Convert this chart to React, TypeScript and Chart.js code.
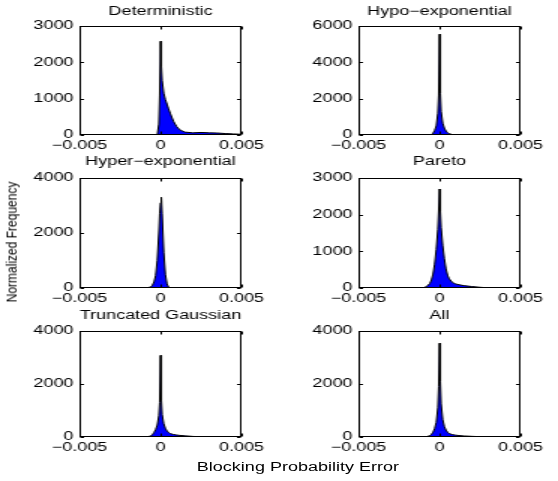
import React, { useEffect, useRef } from 'react';
import { Chart, registerables } from 'chart.js';

Chart.register(...registerables);

// ---------- data ----------
const binCenters = [
  -0.005, -0.004, -0.003, -0.002, -0.0015, -0.0012, -0.001, -0.0008, -0.0006, -0.0005,
  -0.0004, -0.0003, -0.0002, -0.0001, -0.00005, 0, 0.00005, 0.0001, 0.0002, 0.0003,
  0.0004, 0.0005, 0.0006, 0.0008, 0.001, 0.0012, 0.0015, 0.002, 0.0025, 0.003,
  0.0035, 0.004, 0.0045, 0.005,
];

const deterministicFreq = [
  0, 0, 0, 0, 0, 0, 0, 0, 0, 0,
  0, 0, 0, 300, 1100, 2580, 1900, 1500, 1150, 980,
  850, 720, 600, 380, 230, 140, 80, 60, 70, 60,
  55, 40, 30, 20,
];

const hypoExpFreq = [
  0, 0, 0, 0, 0, 0, 0, 0, 5, 30,
  100, 250, 500, 1200, 2200, 5550, 2300, 1300, 650, 380,
  220, 130, 70, 25, 8, 0, 0, 0, 0, 0,
  0, 0, 0, 0,
];

const hyperExpFreq = [
  0, 0, 0, 0, 0, 0, 0, 10, 40, 100,
  220, 450, 1000, 2000, 2700, 3100, 3300, 2700, 1300, 500,
  150, 30, 5, 0, 0, 0, 0, 0, 0, 0,
  0, 0, 0, 0,
];

const paretoFreq = [
  0, 0, 0, 0, 0, 0, 5, 40, 120, 220,
  380, 650, 1050, 1600, 2100, 2700, 2100, 1650, 1150, 800,
  520, 350, 250, 150, 110, 90, 65, 40, 20, 5,
  0, 0, 0, 0,
];

const truncGaussFreq = [
  0, 0, 0, 0, 0, 0, 0, 10, 40, 90,
  170, 280, 450, 800, 1300, 3080, 1400, 850, 500, 330,
  230, 170, 130, 95, 75, 60, 45, 22, 8, 0,
  0, 0, 0, 0,
];

const allFreq = [
  0, 0, 0, 0, 0, 0, 0, 15, 50, 100,
  180, 320, 550, 1100, 1900, 3540, 2100, 1250, 650, 400,
  260, 180, 130, 90, 70, 55, 40, 25, 12, 5,
  0, 0, 0, 0,
];

const xTickValues = [-0.005, 0, 0.005];
const xTickLabels = ['\u22120.005', '0', '0.005'];

const yTicksDet = [0, 1000, 2000, 3000];
const yTicksHypo = [0, 2000, 4000, 6000];
const yTicksHyper = [0, 2000, 4000];
const yTicksPareto = [0, 1000, 2000, 3000];
const yTicksTrunc = [0, 2000, 4000];
const yTicksAll = [0, 2000, 4000];

const panelTitles = [
  'Deterministic',
  'Hypo\u2212exponential',
  'Hyper\u2212exponential',
  'Pareto',
  'Truncated Gaussian',
  'All',
];

const yAxisLabel = 'Normalized Frequency';
const xAxisLabel = 'Blocking Probability Error';

// ---------- layout (unscaled coordinates; whole figure is stretched horizontally) ----------
const STRETCH = 1.5;
const FONT = "'Liberation Sans', Arial, Helvetica, sans-serif";
const YW = 45; // y-axis width
const XH = 22; // x-axis height
const RP = 20; // right padding
const colLeft = [53, 239];
const areaW = 108;
const rowTop = [26, 178, 331];
const rowH = [109, 110, 106];
const titleCenter = [12, 162, 316];

const panelValues = [deterministicFreq, hypoExpFreq, hyperExpFreq, paretoFreq, truncGaussFreq, allFreq];
const panelYTicks = [yTicksDet, yTicksHypo, yTicksHyper, yTicksPareto, yTicksTrunc, yTicksAll];

const framePlugin = {
  id: 'matlabFrame',
  afterDatasetsDraw(chart: any) {
    const { ctx, chartArea } = chart;
    const xs = chart.scales.x;
    const ys = chart.scales.y;
    const l = Math.round(chartArea.left) + 0.5;
    const r = Math.round(chartArea.right) - 0.5;
    const t = Math.round(chartArea.top) + 0.5;
    const b = Math.round(chartArea.bottom) - 0.5;
    ctx.save();
    ctx.strokeStyle = '#000';
    ctx.lineWidth = 1;
    ctx.beginPath();
    xs.ticks.forEach((tk: any) => {
      const px = Math.round(xs.getPixelForValue(tk.value)) + 0.5;
      ctx.moveTo(px, b);
      ctx.lineTo(px, b - 3);
      ctx.moveTo(px, t);
      ctx.lineTo(px, t + 3);
    });
    ys.ticks.forEach((tk: any) => {
      const py = Math.round(ys.getPixelForValue(tk.value)) + 0.5;
      ctx.moveTo(l, py);
      ctx.lineTo(l + 2.5, py);
      ctx.moveTo(r, py);
      ctx.lineTo(r - 2.5, py);
    });
    ctx.stroke();
    ctx.strokeRect(l, t, r - l, b - t);
    ctx.restore();
  },
};

function Panel({ index }: { index: number }) {
  const ref = useRef<HTMLCanvasElement>(null);
  const col = index % 2;
  const row = Math.floor(index / 2);
  const top = titleCenter[row] - 10;
  const titleBox = rowTop[row] - top;
  const left = colLeft[col] - YW;
  const width = YW + areaW + RP;
  const height = titleBox + rowH[row] + XH;
  const values = panelValues[index];
  const yTicks = panelYTicks[index];

  useEffect(() => {
    if (!ref.current) return;
    const font = { family: FONT, size: 12, weight: 'normal' as const };
    const chart = new Chart(ref.current, {
      type: 'line',
      data: {
        datasets: [
          {
            data: binCenters.map((x, i) => ({ x, y: values[i] })),
            fill: 'origin',
            backgroundColor: '#0000ff',
            borderColor: '#000000',
            borderWidth: 1,
            pointRadius: 0,
            tension: 0,
          },
        ],
      },
      options: {
        animation: false,
        responsive: true,
        maintainAspectRatio: false,
        events: [],
        layout: { padding: { left: 0, right: RP, top: 0, bottom: 0 } },
        plugins: {
          legend: { display: false },
          tooltip: { enabled: false },
          title: {
            display: true,
            text: panelTitles[index],
            fullSize: false,
            color: '#000',
            font: { ...font, lineHeight: '20px' },
            padding: { top: 0, bottom: titleBox - 20 },
          },
        },
        scales: {
          x: {
            type: 'linear',
            min: -0.005,
            max: 0.005,
            grid: { display: false, drawTicks: false },
            border: { display: false },
            ticks: {
              autoSkip: false,
              maxRotation: 0,
              padding: 3,
              color: '#000',
              font,
              callback: (v: any) => xTickLabels[xTickValues.indexOf(Number(v))] ?? '',
            },
            afterBuildTicks: (s: any) => {
              s.ticks = xTickValues.map((v) => ({ value: v }));
            },
            afterFit: (s: any) => {
              s.height = XH;
            },
          },
          y: {
            type: 'linear',
            min: 0,
            max: yTicks[yTicks.length - 1],
            grid: { display: false, drawTicks: false },
            border: { display: false },
            ticks: {
              padding: 4,
              color: '#000',
              font,
              callback: (v: any) => String(v),
            },
            afterBuildTicks: (s: any) => {
              s.ticks = yTicks.map((v) => ({ value: v }));
            },
            afterFit: (s: any) => {
              s.width = YW;
            },
          },
        },
      } as any,
      plugins: [framePlugin],
    });
    return () => chart.destroy();
  }, [index]);

  return (
    <div style={{ position: 'absolute', left, top, width, height }}>
      <canvas ref={ref} />
    </div>
  );
}

export default function App() {
  return (
    <div
      style={{
        position: 'absolute',
        left: 0,
        top: 0,
        width: 558 / STRETCH,
        height: 481,
        transform: `scaleX(${STRETCH})`,
        transformOrigin: '0 0',
        background: '#fff',
        fontFamily: FONT,
        fontSize: 12,
        color: '#000',
      }}
    >
      {panelTitles.map((_, i) => (
        <Panel key={i} index={i} />
      ))}
      <div
        style={{
          position: 'absolute',
          left: 8,
          top: 242,
          transform: 'translate(-50%, -50%) scaleX(0.8) rotate(-90deg)',
          whiteSpace: 'nowrap',
          lineHeight: '14px',
        }}
      >
        {yAxisLabel}
      </div>
      <div
        style={{
          position: 'absolute',
          left: 198.6,
          top: 467,
          transform: 'translate(-50%, -50%)',
          whiteSpace: 'nowrap',
          lineHeight: '14px',
        }}
      >
        {xAxisLabel}
      </div>
    </div>
  );
}
